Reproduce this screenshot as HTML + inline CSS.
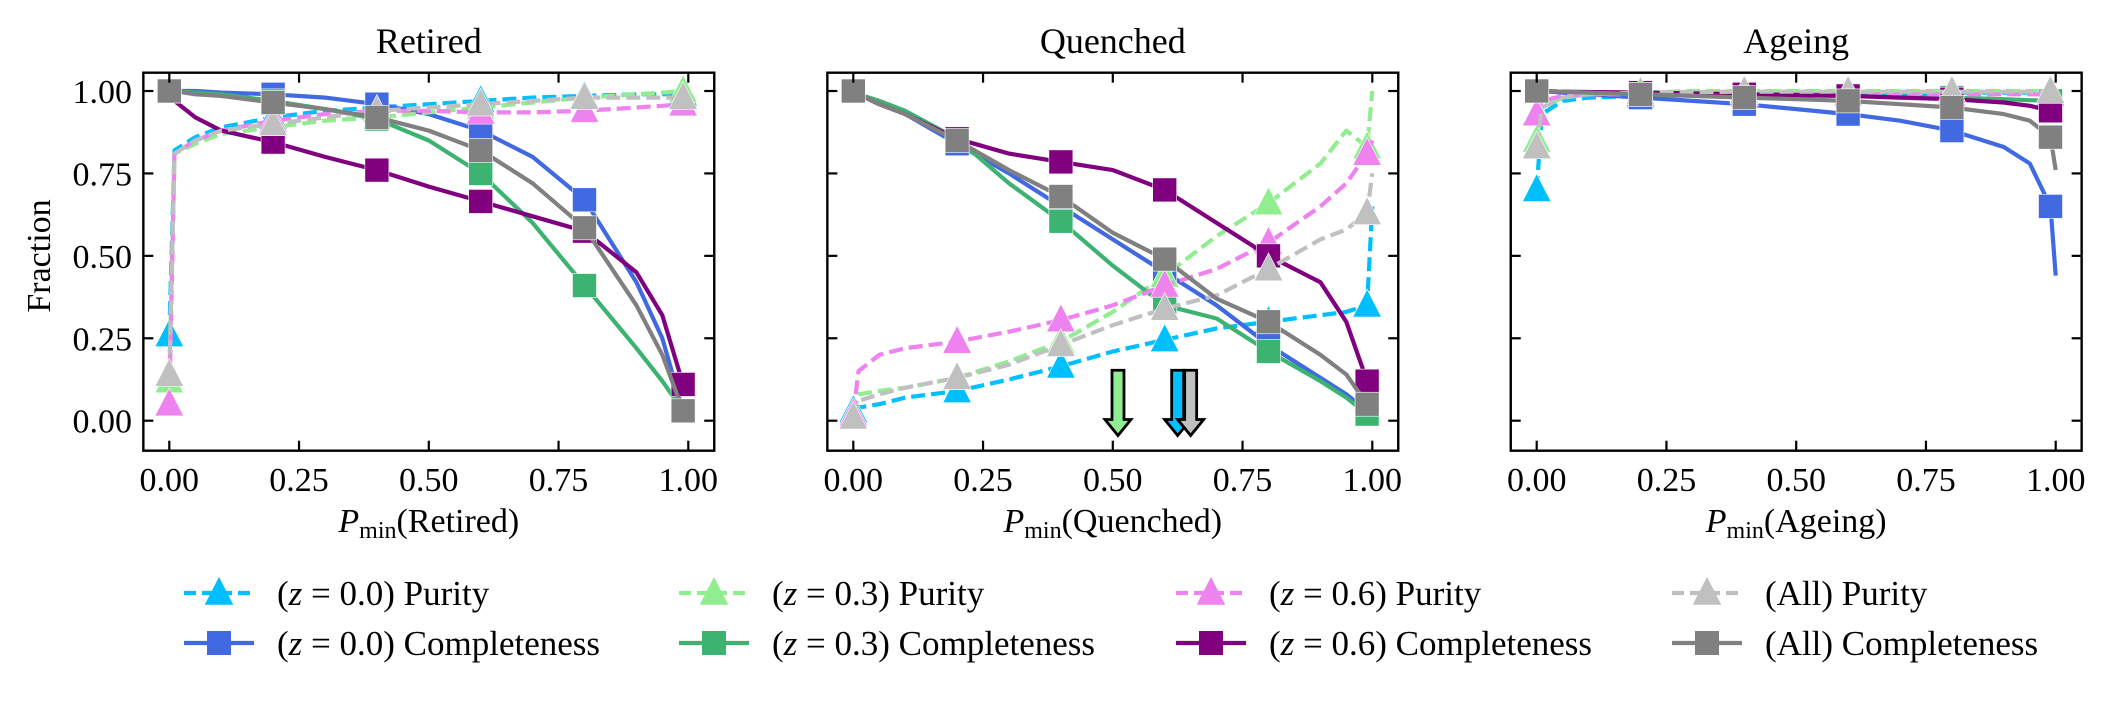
<!DOCTYPE html>
<html><head><meta charset="utf-8"><style>
html,body{margin:0;padding:0;background:#fff;}
svg{display:block;font-family:"Liberation Serif","DejaVu Serif",serif;}
</style></head><body>
<svg id="chart" width="2110" height="702" viewBox="0 0 2110 702" xmlns="http://www.w3.org/2000/svg"></svg>
<script>
// ---- data ----
const xGrid = [0, 0.01, 0.05, 0.1, 0.2, 0.3, 0.4, 0.5, 0.6, 0.7, 0.8, 0.9, 0.95, 0.99, 1.0];
const markerIdx = [0, 4, 6, 8, 10, 13];
const panelTitles = ["Retired", "Quenched", "Ageing"];
const xTickVals = [0, 0.25, 0.5, 0.75, 1.0];
const xTickLabels = ["0.00", "0.25", "0.50", "0.75", "1.00"];
const yTickVals = [0, 0.25, 0.5, 0.75, 1.0];
const yTickLabels = ["0.00", "0.25", "0.50", "0.75", "1.00"];
const seriesLabels = ["(z = 0.0) Purity","(z = 0.0) Completeness","(z = 0.3) Purity","(z = 0.3) Completeness","(z = 0.6) Purity","(z = 0.6) Completeness","(All) Purity","(All) Completeness"];

// Retired
const retPurZ0 = [0.26,0.82,0.86,0.89,0.92,0.94,0.95,0.96,0.97,0.98,0.985,0.99,0.99,0.99,0.99];
const retCompZ0 = [1.0,1.0,1.0,0.995,0.99,0.98,0.96,0.93,0.88,0.8,0.67,0.42,0.25,0.03,0.02];
const retPurZ3 = [0.12,0.81,0.84,0.87,0.89,0.91,0.92,0.935,0.95,0.965,0.98,0.99,0.995,1.0,1.0];
const retCompZ3 = [1.0,1.0,0.995,0.99,0.97,0.945,0.915,0.85,0.75,0.6,0.41,0.22,0.12,0.03,0.02];
const retPurZ6 = [0.05,0.81,0.85,0.88,0.91,0.93,0.94,0.94,0.935,0.935,0.94,0.95,0.955,0.96,0.96];
const retCompZ6 = [1.0,0.97,0.92,0.88,0.845,0.8,0.76,0.71,0.665,0.62,0.575,0.45,0.32,0.11,0.1];
const retPurAll = [0.14,0.81,0.85,0.88,0.9,0.92,0.94,0.95,0.96,0.97,0.98,0.98,0.98,0.98,0.98];
const retCompAll = [1.0,1.0,0.99,0.985,0.965,0.945,0.92,0.88,0.82,0.72,0.585,0.35,0.2,0.03,0.02];

// Quenched
const quePurZ0 = [0.03,0.04,0.05,0.07,0.09,0.125,0.165,0.21,0.245,0.28,0.3,0.32,0.33,0.35,0.65];
const queCompZ0 = [1.0,0.99,0.96,0.93,0.84,0.75,0.65,0.55,0.45,0.35,0.23,0.13,0.08,0.03,0.02];
const quePurZ3 = [0.02,0.08,0.09,0.1,0.13,0.18,0.24,0.33,0.44,0.56,0.66,0.78,0.88,0.83,1.0];
const queCompZ3 = [1.0,0.99,0.97,0.94,0.855,0.72,0.605,0.47,0.35,0.31,0.21,0.12,0.07,0.02,0.02];
const quePurZ6 = [0.02,0.15,0.2,0.22,0.24,0.27,0.305,0.35,0.41,0.46,0.54,0.65,0.72,0.81,0.85];
const queCompZ6 = [1.0,0.99,0.96,0.93,0.855,0.81,0.785,0.76,0.7,0.6,0.5,0.42,0.3,0.12,0.1];
const quePurAll = [0.01,0.06,0.08,0.1,0.13,0.17,0.23,0.29,0.34,0.38,0.46,0.55,0.58,0.63,0.75];
const queCompAll = [1.0,0.99,0.96,0.93,0.85,0.76,0.68,0.57,0.49,0.37,0.3,0.2,0.14,0.05,0.04];

// Ageing
const agePurZ0 = [0.7,0.93,0.97,0.98,0.985,0.99,0.99,0.99,0.99,0.99,0.995,0.995,0.995,0.995,0.995];
const ageCompZ0 = [1.0,1.0,0.995,0.99,0.98,0.97,0.96,0.945,0.93,0.91,0.88,0.83,0.78,0.65,0.44];
const agePurZ3 = [0.85,0.95,0.98,0.99,0.995,1.0,1.0,1.0,1.0,1.0,1.0,1.0,1.0,1.0,1.0];
const ageCompZ3 = [1.0,1.0,0.998,0.995,0.99,0.99,0.99,0.987,0.985,0.982,0.98,0.975,0.972,0.97,0.95];
const agePurZ6 = [0.93,0.97,0.985,0.99,0.99,0.99,0.99,0.99,0.99,0.99,0.99,0.99,0.99,0.99,0.99];
const ageCompZ6 = [1.0,1.0,0.998,0.997,0.995,0.993,0.99,0.988,0.985,0.98,0.975,0.965,0.955,0.94,0.93];
const agePurAll = [0.83,0.95,0.98,0.99,0.995,0.997,0.998,0.998,0.998,0.998,0.998,0.998,0.998,0.998,0.998];
const ageCompAll = [1.0,1.0,0.998,0.995,0.99,0.985,0.98,0.975,0.97,0.96,0.95,0.93,0.91,0.86,0.76];

// Optimal threshold arrows in Quenched panel
const arrowX = [0.51, 0.625, 0.65];
const arrowColors = ["#90EE90", "#00BFFF", "#C0C0C0"];

// ---- drawing ----
const NS = "http://www.w3.org/2000/svg";
const svg = document.getElementById("chart");
function mk(tag, attrs, parent) {
  const e = document.createElementNS(NS, tag);
  for (const k in attrs) e.setAttribute(k, attrs[k]);
  (parent || svg).appendChild(e);
  return e;
}
const colors = ["#00BFFF","#4169E1","#90EE90","#3CB371","#EE82EE","#800080","#C0C0C0","#808080"];
const panelData = [
  [retPurZ0,retCompZ0,retPurZ3,retCompZ3,retPurZ6,retCompZ6,retPurAll,retCompAll],
  [quePurZ0,queCompZ0,quePurZ3,queCompZ3,quePurZ6,queCompZ6,quePurAll,queCompAll],
  [agePurZ0,ageCompZ0,agePurZ3,ageCompZ3,agePurZ6,ageCompZ6,agePurAll,ageCompAll]
];
const PX = 519;
const x0s = [169.3, 853.3, 1536.7];
const yZero = 420.7, yOne = 91.0;
const plotTop = 72.7, plotBottom = 450.7;
const LW = 4.2, DASH = "14,6", MS = 26;
function yS(v){ return yZero - v*(yZero-yOne); }

function triPts(cx, cy, s){ return `${cx},${cy-s*0.62} ${cx-s*0.55},${cy+s*0.45} ${cx+s*0.55},${cy+s*0.45}`; }

panelData.forEach((series, p) => {
  const x0 = x0s[p];
  const xS = v => x0 + v*PX;
  const left = xS(-0.05), right = xS(1.05);
  const g = mk("g", {});
  
  

  const clipId = "clip"+p;
  const cp = mk("clipPath", {id: clipId}, g);
  mk("rect", {x:left, y:plotTop, width:right-left, height:plotBottom-plotTop}, cp);
  const plot = mk("g", {"clip-path": `url(#${clipId})`}, g);

  series.forEach((vals, s) => {
    const isPur = s % 2 === 0;
    const pts = xGrid.map((xv,i)=> `${xS(xv).toFixed(1)},${yS(vals[i]).toFixed(1)}`).join(" ");
    const line = mk("polyline", {points: pts, fill:"none", stroke: colors[s], "stroke-width": LW,
      "stroke-linejoin":"round", "stroke-dasharray": isPur ? DASH : "none"}, plot);
    
    
    markerIdx.forEach(i => {
      const cx = xS(xGrid[i]), cy = yS(vals[i]);
      let m;
      if (isPur) m = mk("polygon", {points: triPts(cx, cy, MS), fill: colors[s], stroke:"#fff", "stroke-width":0.6}, plot);
      else m = mk("rect", {x: cx-12, y: cy-12, width: 24, height: 24, fill: colors[s], stroke:"#fff", "stroke-width":0.6}, plot);
      
      
    });
  });

  if (p === 1) {
    arrowX.forEach((ax, k) => {
      const cx = xS(ax), yT = yS(0.153), yB = yS(-0.045);
      const pts = `${cx-6},${yT} ${cx+6},${yT} ${cx+6},${yB-16} ${cx+13},${yB-16} ${cx},${yB} ${cx-13},${yB-16} ${cx-6},${yB-16}`;
      const a = mk("polygon", {points: pts, fill: arrowColors[k], stroke:"#000", "stroke-width":2.8, "stroke-linejoin":"miter"}, g);
      
      
    });
  }

  const fr = mk("rect", {x:left, y:plotTop, width:right-left, height:plotBottom-plotTop, fill:"none", stroke:"#000", "stroke-width":2.4}, g);
  
  

  xTickVals.forEach((tv, i) => {
    const x = xS(tv);
    mk("line", {x1:x, x2:x, y1:plotBottom, y2:plotBottom-10, stroke:"#000", "stroke-width":2.2}, g);
    mk("line", {x1:x, x2:x, y1:plotTop, y2:plotTop+10, stroke:"#000", "stroke-width":2.2}, g);
    const t = mk("text", {x:x, y:491, "font-size":34, "text-anchor":"middle"}, g);
    t.textContent = xTickLabels[i];
    
    
  });
  yTickVals.forEach((tv, i) => {
    const y = yS(tv);
    mk("line", {x1:left, x2:left+10, y1:y, y2:y, stroke:"#000", "stroke-width":2.2}, g);
    mk("line", {x1:right, x2:right-10, y1:y, y2:y, stroke:"#000", "stroke-width":2.2}, g);
    if (p === 0) {
      const t = mk("text", {x:132, y:y+12, "font-size":34, "text-anchor":"end"}, g);
      t.textContent = yTickLabels[i];
      
      
    }
  });

  const tt = mk("text", {x:(left+right)/2, y:53, "font-size":36, "text-anchor":"middle"}, g);
  tt.textContent = panelTitles[p];
  
  

  const xl = mk("text", {x:(left+right)/2, y:532, "font-size":34, "text-anchor":"middle"}, g);
  
  
  const s1 = mk("tspan", {"font-style":"italic"}, xl); s1.textContent = "P";
  const s2 = mk("tspan", {"font-size":24, dy:6}, xl); s2.textContent = "min";
  const s3 = mk("tspan", {dy:-6}, xl); s3.textContent = "(" + panelTitles[p] + ")";
});

const yl = mk("text", {x:0, y:0, "font-size":34, "text-anchor":"middle", transform:"translate(50,256) rotate(-90)"});
yl.textContent = "Fraction";



const legX = [219, 714, 1211, 1707];
const legY = [593, 643];
seriesLabels.forEach((lab, s) => {
  const col = Math.floor(s/2), row = s%2;
  const cx = legX[col], cy = legY[row];
  const g = mk("g", {});
  
  
  const isPur = row === 0;
  mk("line", {x1:cx-35, x2:cx+35, y1:cy, y2:cy, stroke:colors[s], "stroke-width":LW, "stroke-dasharray": isPur ? "12,6" : "none"}, g);
  if (isPur) mk("polygon", {points: triPts(cx, cy, MS), fill: colors[s]}, g);
  else mk("rect", {x:cx-12, y:cy-12, width:24, height:24, fill:colors[s]}, g);
  const t = mk("text", {x:cx+58, y:cy+12, "font-size":35}, g);
  const m = lab.match(/^\(z = ([0-9.]+)\) (.*)$/);
  if (m) {
    const a = mk("tspan", {}, t); a.textContent = "(";
    const b = mk("tspan", {"font-style":"italic"}, t); b.textContent = "z";
    const c = mk("tspan", {}, t); c.textContent = " = " + m[1] + ") " + m[2];
  } else {
    t.textContent = lab;
  }
});
</script>
</body></html>
